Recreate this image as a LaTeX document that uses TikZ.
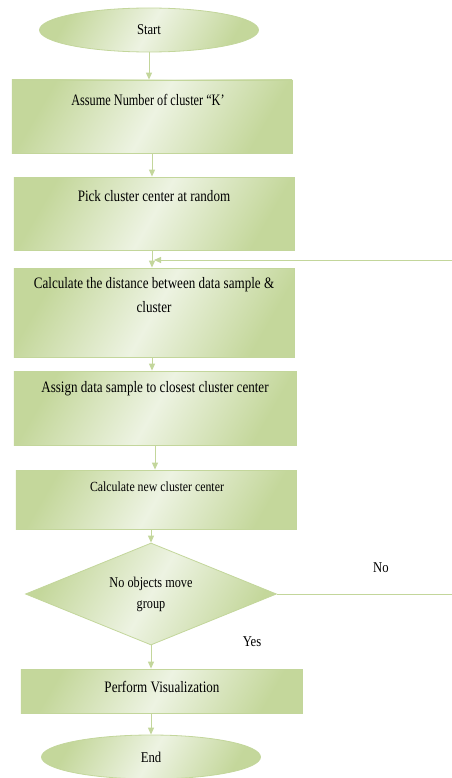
\documentclass[tikz,border=0pt]{standalone}
\usepackage{fontspec}
\setmainfont{Liberation Serif}
\newfontfamily\condA[FakeStretch=0.82]{Liberation Serif}
\newfontfamily\condB[FakeStretch=0.77]{Liberation Serif}
\newfontfamily\condC[FakeStretch=0.85]{Liberation Serif}
\usetikzlibrary{shapes.geometric,arrows.meta}
\definecolor{gdark}{HTML}{C4D79B}
\definecolor{glight}{HTML}{EDF3E2}
\definecolor{gline}{HTML}{C3D69B}
\tikzset{
  fillg/.style={draw=gline, line width=0.8bp, top color=gdark, bottom color=gdark, middle color=glight, shading angle=60},
  box/.style={fillg, rectangle, inner sep=0pt},
  term/.style={fillg, ellipse, inner sep=0pt, minimum width=219bp, minimum height=44bp, font=\condC\fontsize{15}{17}\selectfont},
  dec/.style={fillg, diamond, inner sep=0pt, aspect=2.46, minimum width=251bp, minimum height=102bp, align=center, font=\condA\fontsize{15}{21}\selectfont},
  txt/.style={align=center, inner sep=0pt, font=\condA\fontsize{16}{24}\selectfont},
  ktxt/.style={align=center, inner sep=0pt, font=\condB\fontsize{16}{24}\selectfont},
  stxt/.style={align=center, inner sep=0pt, font=\condC\fontsize{14}{16}\selectfont},
  lbl/.style={inner sep=0pt, font=\condC\fontsize{15}{17}\selectfont},
  flow/.style={draw=gline, line width=1bp, -{Triangle[width=6bp,length=7bp]}},
  line/.style={draw=gline, line width=1bp}
}
\begin{document}
\begin{tikzpicture}[x=1bp,y=-1bp]
\useasboundingbox (0,0) rectangle (452,778);
\node[term] (start) at (149,30) {Start};
\node[box, minimum width=280bp, minimum height=73bp] (b1) at (152,116.5) {};
\node[ktxt] (t1) at (148,100) {Assume Number of cluster “K’};
\node[box, minimum width=280bp, minimum height=73bp] (b2) at (154,213.5) {};
\node[txt] (t2) at (154,196) {Pick cluster center at random};
\node[box, minimum width=280bp, minimum height=89bp] (b3) at (154,312.5) {};
\node[txt] (t3) at (154,295) {Calculate the distance between data sample \&\\cluster};
\node[box, minimum width=282bp, minimum height=74bp] (b4) at (155,408) {};
\node[txt] (t4) at (155,389) {Assign data sample to closest cluster center};
\node[box, minimum width=280bp, minimum height=59bp] (b5) at (156,499.5) {};
\node[stxt] (t5) at (157,487) {Calculate new cluster center};
\node[dec] (d) at (151,594) {No objects move\\group};
\node[box, minimum width=281bp, minimum height=44bp] (b6) at (161.5,691) {};
\node[txt] (t6) at (162,687) {Perform Visualization};
\node[term] (end) at (151,757) {End};
\node[lbl] (no) at (381,568) {No};
\node[lbl] (yes) at (252,642) {Yes};
\coordinate (fbs) at (452,260);
\coordinate (fbe) at (154,260);
\coordinate (nos) at (452,594);
\draw[flow] (start.south) -- (start.south |- b1.north);
\draw[flow] (b1.south) -- (b1.south |- b2.north);
\draw[flow] ([xshift=-2bp]b2.south) -- ([xshift=-2bp]b2.south |- b3.north);
\draw[flow] (fbs) -- (fbe);
\draw[flow] ([xshift=-2bp]b3.south) -- ([xshift=-2bp]b3.south |- b4.north);
\draw[flow] (b4.south) -- (b4.south |- b5.north);
\draw[flow] ([xshift=-5bp]b5.south) -- ([xshift=-5bp]b5.south |- d.north);
\draw[line] (d.east) -- (nos);
\draw[flow] (d.south) -- (d.south |- b6.north);
\draw[flow] (d.south |- b6.south) -- (d.south |- end.north);
\end{tikzpicture}
\end{document}
